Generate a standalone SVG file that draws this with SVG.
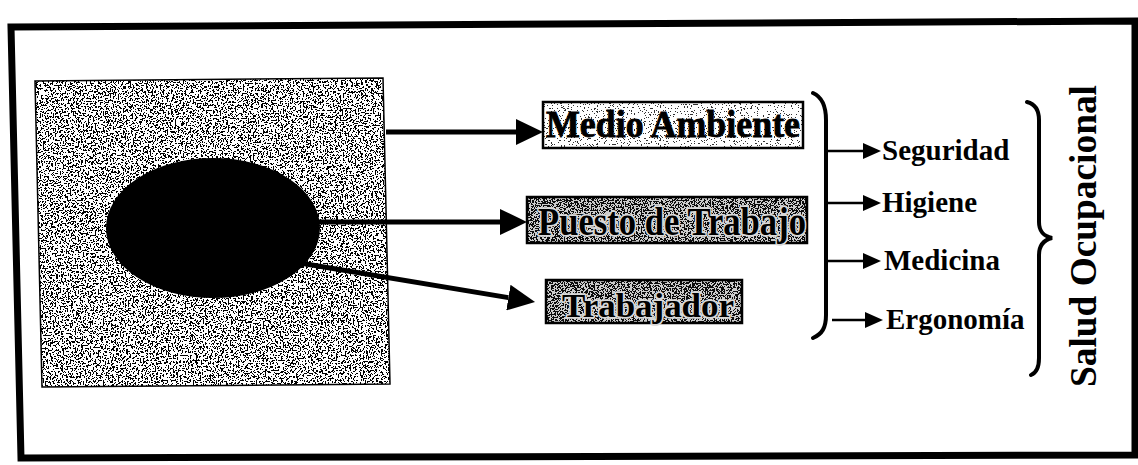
<svg xmlns="http://www.w3.org/2000/svg" width="1138" height="465" viewBox="0 0 1138 465">
<style>
.big{font-family:"Liberation Serif","Times New Roman",serif;font-weight:bold;fill:#000}
.halo{stroke:#d8d8d8;stroke-width:3.5;stroke-linejoin:round}
.lbl{font-family:"Liberation Serif","Times New Roman",serif;font-weight:bold;font-size:29px;fill:#000}
.conn{stroke:#000;fill:none}
.brk{stroke:#000;stroke-width:4;fill:none;stroke-linecap:round}
</style>
<defs>
<filter id="speckle" x="0" y="0" width="1" height="1" color-interpolation-filters="sRGB">
<feTurbulence type="fractalNoise" baseFrequency="0.6" numOctaves="2" seed="4"/>
<feColorMatrix type="matrix" values="1 0 0 0 0  1 0 0 0 0  1 0 0 0 0  0 0 0 0 1"/>
<feComponentTransfer>
<feFuncR type="discrete" tableValues="0 0 0 0 0 0 0 0 0 1 1 1 1 1 1 1 1 1 1 1"/>
<feFuncG type="discrete" tableValues="0 0 0 0 0 0 0 0 0 1 1 1 1 1 1 1 1 1 1 1"/>
<feFuncB type="discrete" tableValues="0 0 0 0 0 0 0 0 0 1 1 1 1 1 1 1 1 1 1 1"/>
</feComponentTransfer>
</filter>
<filter id="light" x="0" y="0" width="1" height="1" color-interpolation-filters="sRGB">
<feTurbulence type="fractalNoise" baseFrequency="0.7" numOctaves="2" seed="7"/>
<feColorMatrix type="matrix" values="1 0 0 0 0  1 0 0 0 0  1 0 0 0 0  0 0 0 0 1"/>
<feComponentTransfer>
<feFuncR type="discrete" tableValues="0.2 0.2 0.2 0.2 0.2 0.2 0.2 1 1 1 1 1 1 1 1 1 1 1 1 1"/>
<feFuncG type="discrete" tableValues="0.2 0.2 0.2 0.2 0.2 0.2 0.2 1 1 1 1 1 1 1 1 1 1 1 1 1"/>
<feFuncB type="discrete" tableValues="0.2 0.2 0.2 0.2 0.2 0.2 0.2 1 1 1 1 1 1 1 1 1 1 1 1 1"/>
</feComponentTransfer>
</filter>
<filter id="dark" x="0" y="0" width="1" height="1" color-interpolation-filters="sRGB">
<feTurbulence type="fractalNoise" baseFrequency="0.7" numOctaves="2" seed="11"/>
<feColorMatrix type="matrix" values="1 0 0 0 0  1 0 0 0 0  1 0 0 0 0  0 0 0 0 1"/>
<feComponentTransfer>
<feFuncR type="discrete" tableValues="0.05 0.05 0.05 0.05 0.05 0.05 0.05 0.05 0.05 0.05 0.8 0.8 0.8 0.8 0.8 0.8 0.8 0.8 0.8 0.8"/>
<feFuncG type="discrete" tableValues="0.05 0.05 0.05 0.05 0.05 0.05 0.05 0.05 0.05 0.05 0.8 0.8 0.8 0.8 0.8 0.8 0.8 0.8 0.8 0.8"/>
<feFuncB type="discrete" tableValues="0.05 0.05 0.05 0.05 0.05 0.05 0.05 0.05 0.05 0.05 0.8 0.8 0.8 0.8 0.8 0.8 0.8 0.8 0.8 0.8"/>
</feComponentTransfer>
</filter>
<marker id="headBig" markerUnits="userSpaceOnUse" markerWidth="27" markerHeight="26" viewBox="0 0 27 26" refX="0" refY="13" orient="auto">
<path d="M0,0 L27,13 L0,26 Z" fill="#000"/>
</marker>
<marker id="headSmall" markerUnits="userSpaceOnUse" markerWidth="18" markerHeight="16" viewBox="0 0 18 16" refX="0" refY="8" orient="auto">
<path d="M0,0 L18,8 L0,16 Z" fill="#000"/>
</marker>
<clipPath id="sceneClip"><polygon points="35,81 383,78 390,384 42,387"/></clipPath>
</defs>
<rect width="1138" height="465" fill="#fff"/>
<path d="M11,27 L1135,21 L1135,455 L21,458 Z" fill="none" stroke="#000" stroke-width="7" stroke-linejoin="miter"/>

<g id="scene">
<rect x="35" y="78" width="356" height="310" filter="url(#speckle)" clip-path="url(#sceneClip)"/>
<polygon points="35,81 383,78 390,384 42,387" fill="none" stroke="#000" stroke-width="1.5"/>
<ellipse cx="213" cy="228" rx="107" ry="70" fill="#000"/>
</g>

<g id="connectors">
<line class="conn" x1="386" y1="132" x2="516" y2="132" stroke-width="5" marker-end="url(#headBig)"/>
<line class="conn" x1="310" y1="222" x2="500" y2="222" stroke-width="5" marker-end="url(#headBig)"/>
<line class="conn" x1="300" y1="263" x2="508.4" y2="297.6" stroke-width="5" marker-end="url(#headBig)"/>
<line class="conn" x1="826" y1="151" x2="863" y2="151" stroke-width="2.5" marker-end="url(#headSmall)"/>
<line class="conn" x1="826" y1="203" x2="863" y2="203" stroke-width="2.5" marker-end="url(#headSmall)"/>
<line class="conn" x1="826" y1="261" x2="863" y2="261" stroke-width="2.5" marker-end="url(#headSmall)"/>
<line class="conn" x1="832" y1="320" x2="865" y2="320" stroke-width="2.5" marker-end="url(#headSmall)"/>
</g>

<g id="medio-ambiente">
<rect x="543" y="102" width="260" height="46" filter="url(#light)"/>
<rect x="543" y="102" width="260" height="46" fill="none" stroke="#000" stroke-width="2.5"/>
<text class="big" x="546" y="137" font-size="37" textLength="254" lengthAdjust="spacingAndGlyphs" stroke="#000" stroke-width="0.8">Medio Ambiente</text>
</g>

<g id="puesto-de-trabajo">
<rect x="527" y="197" width="280" height="46" filter="url(#dark)"/>
<rect x="527" y="197" width="280" height="46" fill="none" stroke="#000" stroke-width="2.5"/>
<text class="big halo" x="538" y="235" font-size="40" textLength="268" lengthAdjust="spacingAndGlyphs" stroke="#000" stroke-width="1" paint-order="stroke">Puesto de Trabajo</text>
</g>

<g id="trabajador">
<rect x="546" y="280" width="196" height="43" filter="url(#dark)"/>
<rect x="546" y="280" width="196" height="43" fill="none" stroke="#000" stroke-width="2.5"/>
<text class="big halo" x="562" y="317" font-size="34" textLength="172" lengthAdjust="spacingAndGlyphs" paint-order="stroke">Trabajador</text>
</g>

<g id="bracket-1">
<path class="brk" d="M813,93 C822,97 826,105 826,120 L826,315 C826,328 822,334 813,338"/>
</g>

<g id="seguridad"><text class="lbl" x="882" y="160">Seguridad</text></g>
<g id="higiene"><text class="lbl" x="882" y="212">Higiene</text></g>
<g id="medicina"><text class="lbl" x="884" y="270">Medicina</text></g>
<g id="ergonomia"><text class="lbl" x="886" y="329">Ergonomía</text></g>

<g id="brace-2">
<path class="brk" d="M1027,102 C1035,104 1039,110 1039,120 L1039,222 C1039,232 1044,236 1052,238 C1044,240 1039,245 1039,255 L1039,358 C1039,368 1036,373 1031,375"/>
</g>

<g id="salud-ocupacional">
<text class="big" font-size="37" text-anchor="middle" transform="translate(1096,236) rotate(-90)" textLength="302" lengthAdjust="spacingAndGlyphs">Salud Ocupacional</text>
</g>
</svg>
